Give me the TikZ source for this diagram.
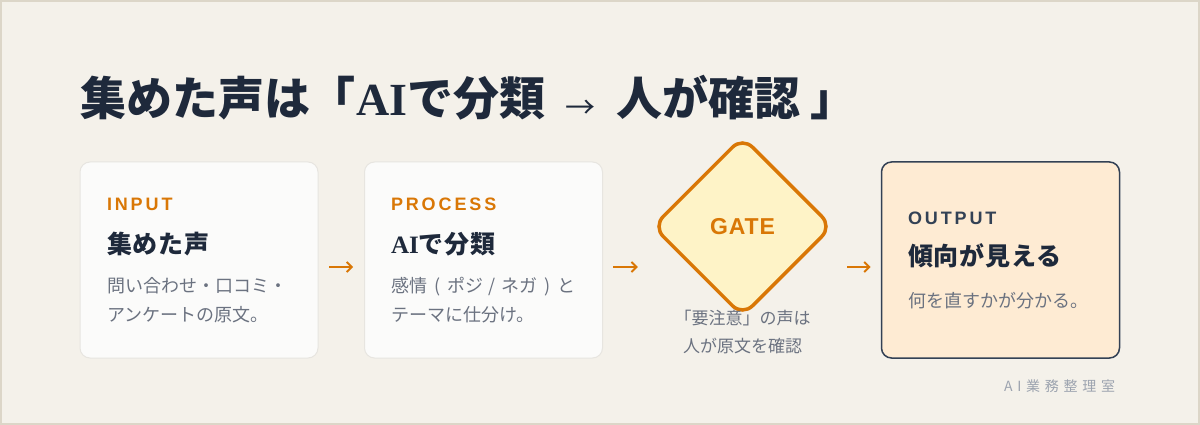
\documentclass[tikz,border=0pt]{standalone}
\usepackage{fontspec}
\setmainfont{Noto Sans CJK JP}
\newfontfamily\labfont[LetterSpace=16]{Liberation Sans}
\newfontfamily\gatefont[LetterSpace=4]{Liberation Sans}
\newfontfamily\serifAI{Liberation Serif}
\newfontfamily\footfont[LetterSpace=34]{Noto Sans CJK JP}
\newfontfamily\headfont[LetterSpace=3]{Noto Sans CJK JP}
\usetikzlibrary{shapes.geometric,arrows.meta}
\definecolor{bg}{HTML}{F4F1EA}
\definecolor{frame}{HTML}{DCD6C8}
\definecolor{ink}{HTML}{1E293B}
\definecolor{accent}{HTML}{D97706}
\definecolor{muted}{HTML}{6B7280}
\definecolor{cardfill}{HTML}{FBFBFA}
\definecolor{cardline}{HTML}{E7E5E0}
\definecolor{gatefill}{HTML}{FEF3C7}
\definecolor{outfill}{HTML}{FEEBD3}
\definecolor{slate}{HTML}{334155}
\definecolor{footgray}{HTML}{9CA3AF}
\begin{document}
\begin{tikzpicture}[x=1pt,y=-1pt,
  card/.style={draw=cardline,fill=cardfill,line width=1pt,rounded corners=10pt,minimum width=238pt,minimum height=196pt,inner sep=0pt},
  outcard/.style={draw=slate,fill=outfill,line width=1.5pt,rounded corners=10pt,minimum width=238pt,minimum height=196pt,inner sep=0pt},
  gatebox/.style={draw=accent,fill=gatefill,line width=3.5pt,diamond,aspect=1,minimum width=180pt,minimum height=180pt,inner sep=0pt,rounded corners=14pt},
  txt/.style={anchor=base west,inner sep=0pt,outer sep=0pt},
  lbl/.style={txt,font=\labfont\bfseries\fontsize{18}{18}\selectfont,text=accent},
  head/.style={txt,font=\headfont\bfseries\fontsize{25}{25}\selectfont,text=ink},
  desc/.style={txt,font=\fontsize{18}{18}\selectfont,text=muted},
  capt/.style={anchor=base,inner sep=0pt,font=\fontsize{17}{17}\selectfont,text=muted},
  flow/.style={draw=accent,line width=1.8pt,-{Straight Barb[length=5pt,width=10pt]}},
]
\useasboundingbox (0,0) rectangle (1200,425);
\fill[bg] (0,0) rectangle (1200,425);
\draw[frame,line width=2pt] (1,1) rectangle (1199,424);

% title
\node[txt,font=\bfseries\fontsize{46}{46}\selectfont,text=ink] (title) at (80,116)
  {集めた声は「{\serifAI AI}で分類\hspace{20pt}\raisebox{-2.5pt}{\mdseries\fontsize{30}{30}\selectfont →}\hspace{21pt}人が確認\hspace{10pt}」};

% cards
\node[card] (in) at (199,260) {};
\node[card] (proc) at (483.5,260) {};
\node[gatebox] (gate) at (742.5,226.5) {};
\node[outcard] (out) at (1000.5,260) {};

% INPUT
\node[lbl] (inlbl) at (107,211) {INPUT};
\node[head] (inhead) at (107,253.5) {集めた声};
\node[desc] (indesc1) at (107,292) {問い合わせ・口コミ・};
\node[desc] (indesc2) at (107,321) {アンケートの原文。};

% PROCESS
\node[lbl] (proclbl) at (391,211) {PROCESS};
\node[head] (prochead) at (391,253.5) {{\serifAI AI}で分類};
\node[desc] (procdesc1) at (391,292) {感情\hspace{0.4em}(\hspace{0.4em}ポジ\hspace{0.3em}/\hspace{0.3em}ネガ\hspace{0.4em})\hspace{0.4em}と};
\node[desc] (procdesc2) at (391,321) {テーマに仕分け。};

% GATE
\node[anchor=base,inner sep=0pt,font=\gatefont\bfseries\fontsize{23}{23}\selectfont,text=accent] (gatelbl) at ([yshift=-7.5pt]gate.center) {GATE};
\node[capt] (cap1) at (742.5,324) {「要注意」の声は};
\node[capt] (cap2) at (742.5,352) {人が原文を確認};

% OUTPUT
\node[lbl,text=slate] (outlbl) at (908,225) {OUTPUT};
\node[head] (outhead) at (908,265.5) {傾向が見える};
\node[desc] (outdesc) at (908,307) {何を直すかが分かる。};

% footer
\node[txt,font=\footfont\fontsize{14}{14}\selectfont,text=footgray] (foot) at (1004,391) {AI業務整理室};

% connectors
\draw[flow,shorten <=10.5pt,shorten >=11pt] ([yshift=-7pt]in.east) -- ([yshift=-7pt]proc.west);
\draw[flow,shorten <=10pt,shorten >=13pt] ([yshift=-7pt]proc.east) -- ([yshift=-7pt]proc.east -| gate.west);
\draw[flow,shorten <=12.75pt,shorten >=10.25pt] ([yshift=-7pt]out.west -| gate.east) -- ([yshift=-7pt]out.west);
\end{tikzpicture}
\end{document}
